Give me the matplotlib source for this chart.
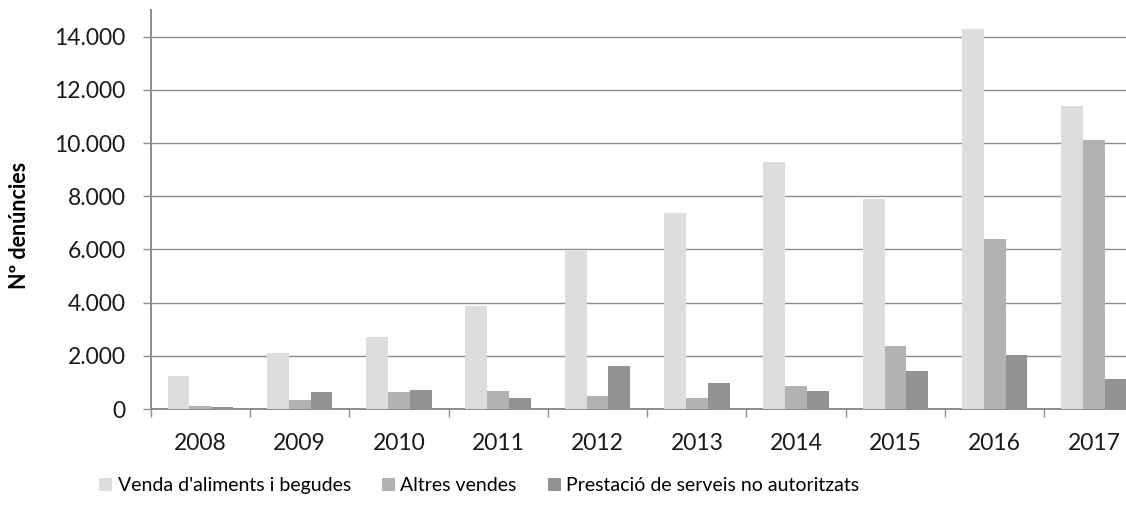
import matplotlib
matplotlib.use("Agg")
from matplotlib import pyplot as plt
from matplotlib.ticker import FuncFormatter, FixedLocator
import numpy as np

plt.rcParams['font.family'] = ['Lato', 'DejaVu Sans']

years = ['2008', '2009', '2010', '2011', '2012', '2013', '2014', '2015', '2016', '2017']

venda = [1230, 2120, 2710, 3870, 5930, 7360, 9280, 7890, 14290, 11400]   # Venda d'aliments i begudes
altres = [100, 330, 640, 690, 490, 410, 870, 2360, 6390, 10110]          # Altres vendes
serveis = [75, 630, 700, 400, 1600, 970, 665, 1430, 2030, 1140]          # Prestació de serveis no autoritzats

series_names = ["Venda d'aliments i begudes", "Altres vendes",
                "Prestació de serveis no autoritzats"]
colors = ['#dddddd', '#b2b2b2', '#929292']

fig = plt.figure(figsize=(11.26, 5.13), dpi=100)
ax = fig.add_axes([0.1338, 0.2027, 0.8819, 0.7778])

x = np.arange(len(years))
w = 0.22
bars = []
for i, (vals, c) in enumerate(zip([venda, altres, serveis], colors)):
    b = ax.bar(x + (i - 1) * w, vals, width=w, color=c, zorder=3, linewidth=0)
    bars.append(b)

ax.set_xlim(-0.5, len(years) - 0.5)
ax.set_ylim(0, 15000)
ax.yaxis.set_major_locator(FixedLocator(range(0, 14001, 2000)))
ax.yaxis.set_major_formatter(FuncFormatter(lambda v, p: f"{int(v):,}".replace(',', '.')))
ax.grid(axis='y', color='#8c8c8c', linewidth=1.0, zorder=0)

ax.set_xticks(x)
ax.set_xticklabels(years)
ax.set_xticks(np.arange(-0.5, len(years), 1), minor=True)
ax.tick_params(axis='x', which='major', length=0, pad=17, labelsize=16.5, colors='#1a1a1a')
ax.tick_params(axis='x', which='minor', length=6, width=1, color='#8c8c8c')
ax.tick_params(axis='y', length=6, width=1, color='#8c8c8c', pad=12, labelsize=16.5,
               labelcolor='#1a1a1a')

for s in ['top', 'right']:
    ax.spines[s].set_visible(False)
for s in ['left', 'bottom']:
    ax.spines[s].set_color('#8c8c8c')
    ax.spines[s].set_linewidth(1.4)

ax.set_ylabel('Nº denúncies', fontsize=15.5, fontweight='bold')
ax.yaxis.set_label_coords(-0.122, 0.46)

fig.legend(bars, series_names, loc='center left', bbox_to_anchor=(0.088, 0.053), ncol=3,
           frameon=False, fontsize=14, handlelength=0.65, handleheight=0.65,
           handletextpad=0.3, columnspacing=1.6, borderpad=0, borderaxespad=0)

fig.savefig('out.png', dpi=100)
